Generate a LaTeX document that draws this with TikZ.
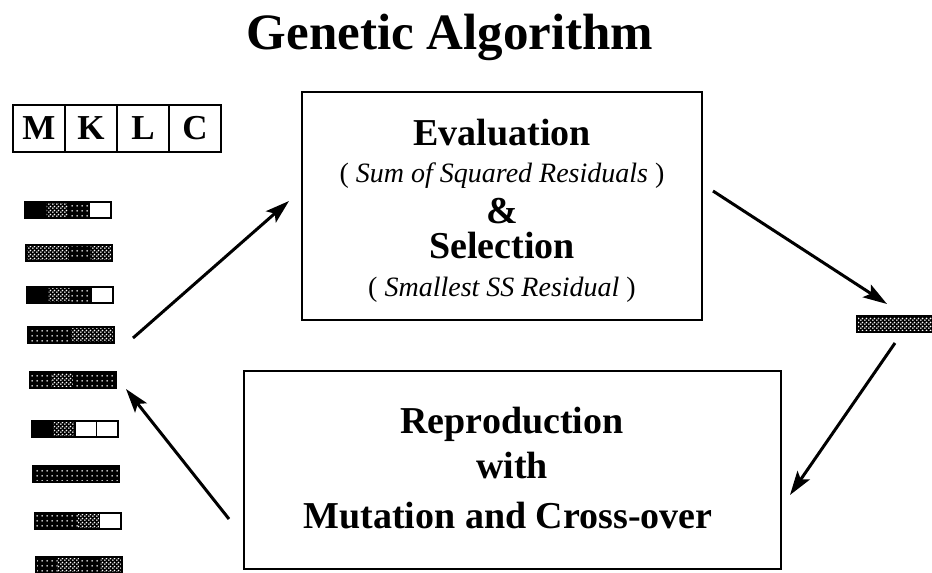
\documentclass[tikz,border=0pt]{standalone}
\usepackage{fontspec}
\setmainfont{Liberation Serif}
\usetikzlibrary{arrows.meta,patterns,positioning}

\pgfdeclarepatternformonly{sparsedots}{\pgfpointorigin}{\pgfqpoint{5pt}{5pt}}{\pgfqpoint{5pt}{5pt}}{%
  \pgfpathcircle{\pgfqpoint{2.5pt}{2.5pt}}{1pt}\pgfusepath{fill}}
\pgfdeclarepatternformonly{densedots}{\pgfpointorigin}{\pgfqpoint{4pt}{4pt}}{\pgfqpoint{4pt}{4pt}}{%
  \pgfpathcircle{\pgfqpoint{1pt}{1pt}}{1.05pt}\pgfpathcircle{\pgfqpoint{3pt}{3pt}}{1.05pt}\pgfusepath{fill}}

\tikzset{
  gk/.style={fill=black},
  gs/.style={fill=black, postaction={pattern=sparsedots, pattern color=white}},
  gd/.style={fill=black, postaction={pattern=densedots, pattern color=white}},
  gw/.style={fill=white, draw=black, line width=1.5pt},
  gene/.style={draw, line width=2pt, outer sep=0pt, inner sep=0pt,
    minimum width=52pt, minimum height=47pt,
    font=\fontsize{35}{38}\selectfont\bfseries},
  stagebox/.style={draw, line width=2pt, inner sep=0pt},
  head/.style={anchor=base, font=\fontsize{38}{42}\selectfont\bfseries},
  note/.style={anchor=base, font=\fontsize{28}{30}\selectfont},
  flow/.style={line width=3pt, -{Stealth[length=24pt, width=15pt, inset=5pt]}}
}

% 染色体条：#1 左端 x，#2 中心 y，#3 四段样式
\newcommand{\chrom}[3]{%
  \foreach \g [count=\i from 0] in {#3}
    \path[\g] ({#1+21.5*\i},{#2-8}) rectangle ++(21.5,16);
  \draw[line width=1.5pt] ({#1},{#2-8}) rectangle ++(86,16);
}

\begin{document}
\begin{tikzpicture}[x=1pt, y=-1pt]
  \useasboundingbox (0,0) rectangle (932,573);

  \node[anchor=base, font=\fontsize{51}{56}\selectfont\bfseries] (title) at (450,49) {Genetic Algorithm};

  % 基因名
  \node[gene] (gM) at (39,128) {M};
  \node[gene, right=0pt of gM] (gK) {K};
  \node[gene, right=0pt of gK] (gL) {L};
  \node[gene, right=0pt of gL] (gC) {C};

  % 种群
  \chrom{25}{210}{gk,gd,gs,gw}
  \chrom{26}{253}{gd,gd,gs,gd}
  \chrom{27}{295}{gk,gd,gs,gw}
  \chrom{28}{335}{gs,gs,gd,gd}
  \chrom{30}{380}{gs,gd,gs,gs}
  \chrom{32}{429}{gk,gd,gw,gw}
  \chrom{33}{474}{gs,gs,gs,gs}
  \chrom{35}{521}{gs,gs,gd,gw}
  \chrom{36}{565}{gs,gd,gs,gd}
  \chrom{857}{324}{gd,gd,gd,gd}

  % 评价与选择
  \node[stagebox, minimum width=400pt, minimum height=228pt] (evalbox) at (502,206) {};
  \node[head] (evalT) at (502,145) {Evaluation};
  \node[note] (sumT)  at (502,182) {( \textit{Sum of Squared Residuals} )};
  \node[head] (ampT)  at (502,223) {\&};
  \node[head] (selT)  at (502,258) {Selection};
  \node[note] (ssT)   at (502,296) {( \textit{Smallest SS Residual} )};

  % 繁殖
  \node[stagebox, minimum width=537pt, minimum height=198pt] (reprobox) at (512.5,470) {};
  \node[head] (reproT) at (512,433) {Reproduction};
  \node[head] (withT)  at (512,478) {with};
  \node[head] (mutT)   at (508,528) {Mutation and Cross-over};

  % 箭头
  \coordinate (popOut) at (133,338);
  \coordinate (evalIn) at (289,201);
  \coordinate (evalOut) at (713,191);
  \coordinate (bestIn) at (887,304);
  \coordinate (bestOut) at (895,343);
  \coordinate (reproIn) at (790,495);
  \coordinate (reproOut) at (229,519);
  \coordinate (popIn) at (126,389);

  \draw[flow] (popOut) -- (evalIn);
  \draw[flow] (evalOut) -- (bestIn);
  \draw[flow] (bestOut) -- (reproIn);
  \draw[flow] (reproOut) -- (popIn);
\end{tikzpicture}
\end{document}
